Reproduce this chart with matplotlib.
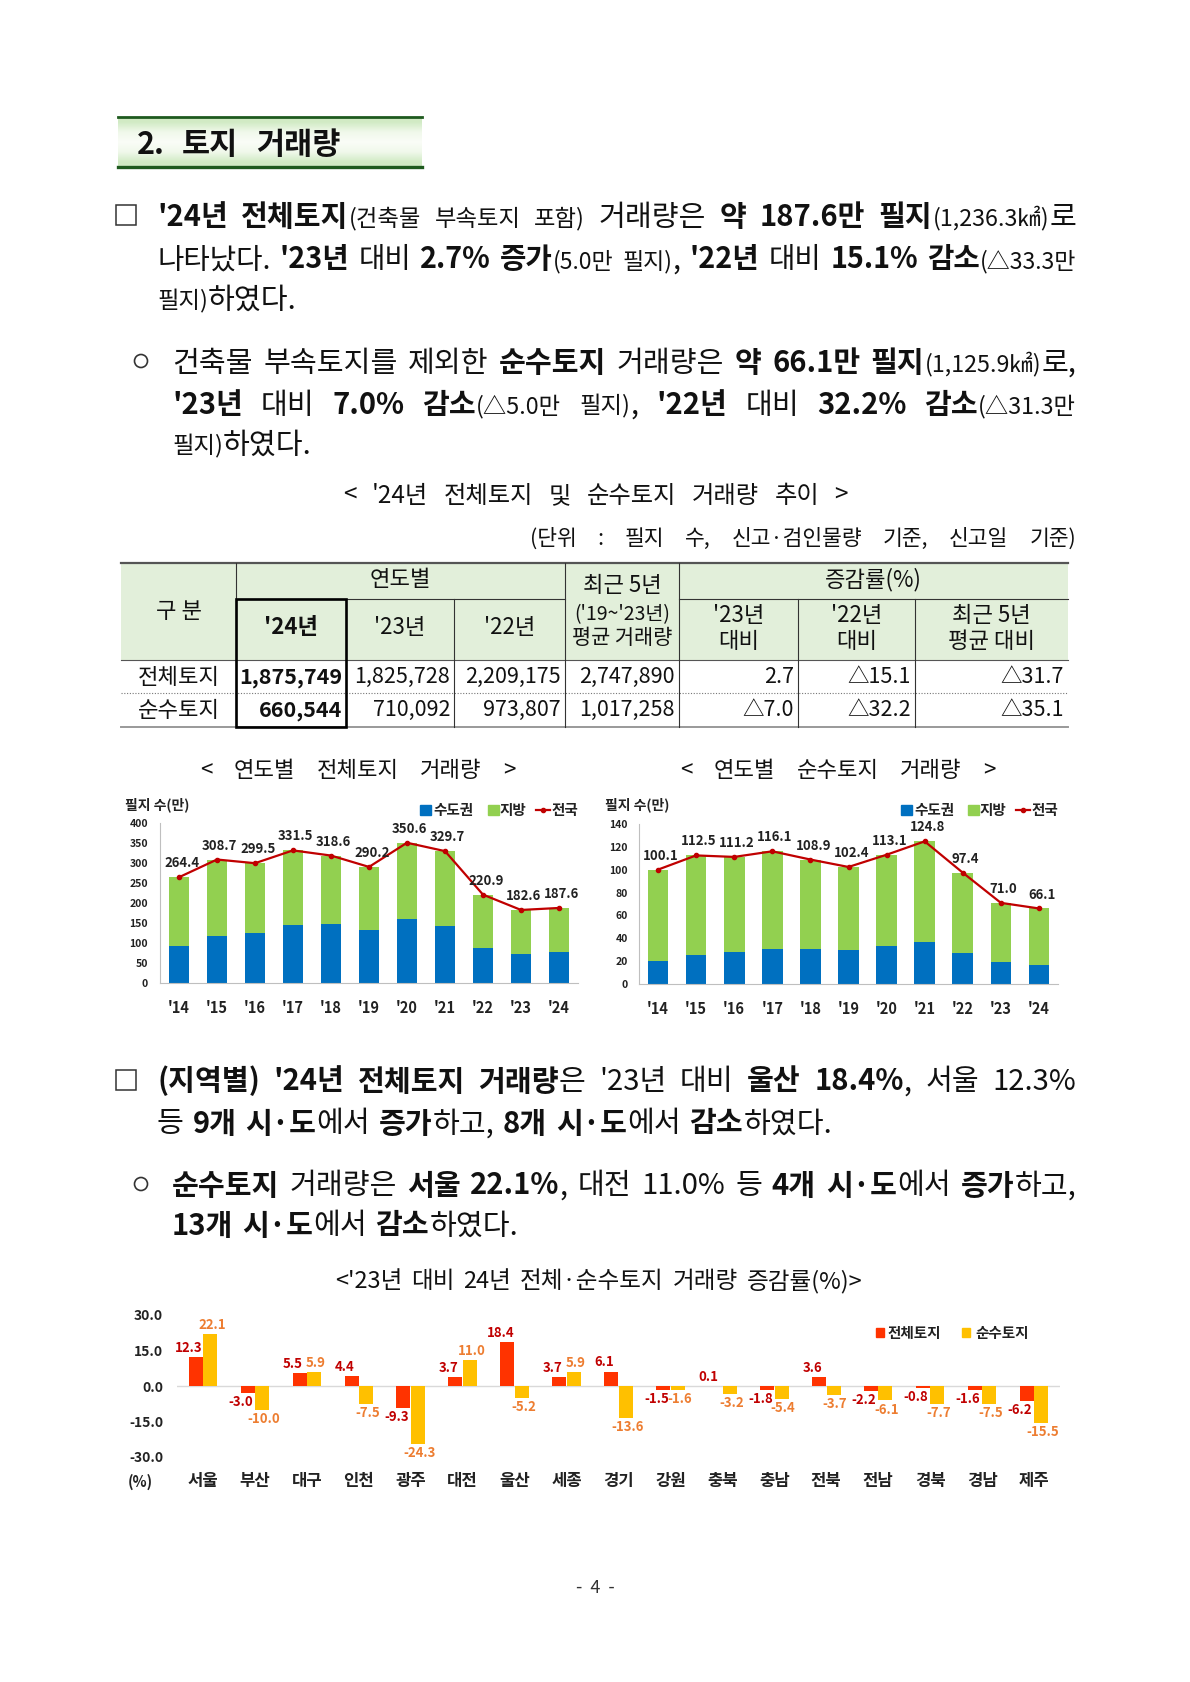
import numpy as np
import matplotlib.pyplot as plt
from matplotlib.patches import Rectangle, Circle

plt.rcParams['font.family'] = ['Noto Sans CJK KR', 'DejaVu Sans']
plt.rcParams['axes.unicode_minus'] = False

W, H = 1190, 1682

# ---- data ----
years = ["'14", "'15", "'16", "'17", "'18", "'19", "'20", "'21", "'22", "'23", "'24"]
all_total = [264.4, 308.7, 299.5, 331.5, 318.6, 290.2, 350.6, 329.7, 220.9, 182.6, 187.6]
all_capital = [92, 118, 124, 145, 147.5, 132, 159, 143, 87, 72.5, 77.5]
pure_total = [100.1, 112.5, 111.2, 116.1, 108.9, 102.4, 113.1, 124.8, 97.4, 71.0, 66.1]
pure_capital = [20.4, 25.7, 28.0, 30.3, 30.3, 29.4, 33.5, 37.0, 27.4, 19.0, 16.3]

regions = ['서울', '부산', '대구', '인천', '광주', '대전', '울산', '세종', '경기',
           '강원', '충북', '충남', '전북', '전남', '경북', '경남', '제주']
chg_all = [12.3, -3.0, 5.5, 4.4, -9.3, 3.7, 18.4, 3.7, 6.1,
           -1.5, 0.1, -1.8, 3.6, -2.2, -0.8, -1.6, -6.2]
chg_pure = [22.1, -10.0, 5.9, -7.5, -24.3, 11.0, -5.2, 5.9, -13.6,
            -1.6, -3.2, -5.4, -3.7, -6.1, -7.7, -7.5, -15.5]

tbl_rows = ['전체토지', '순수토지']
vol_24 = [1875749, 660544]
vol_23 = [1825728, 710092]
vol_22 = [2209175, 973807]
vol_5yr = [2747890, 1017258]
rate_23 = [2.7, -7.0]
rate_22 = [-15.1, -32.2]
rate_5yr = [-31.7, -35.1]

BLUE, GREEN, LINE = '#0070C0', '#92D050', '#C00000'
RED, YEL = '#FF3300', '#FFC000'
TXT = '#111111'

fig = plt.figure(figsize=(W / 100, H / 100), dpi=100)
page = fig.add_axes([0, 0, 1, 1])
page.set_xlim(0, W)
page.set_ylim(H, 0)
page.axis('off')
R = fig.canvas.get_renderer()


def px(pt):
    return pt * 100 / 72


def tw(s, size, weight='normal'):
    t = page.text(0, 0, s, fontsize=size, fontweight=weight)
    w = t.get_window_extent(R).width
    t.remove()
    return w


def parse(s):
    # **bold**, {small}
    chars, bold, small, i = [], False, False, 0
    while i < len(s):
        if s.startswith('**', i):
            bold = not bold
            i += 2
            continue
        if s[i] == '{':
            small = True
        elif s[i] == '}':
            small = False
        else:
            chars.append((s[i], bold, small))
        i += 1
    words, cur = [], []
    for c in chars:
        if c[0] == ' ':
            if cur:
                words.append(cur)
            cur = []
        else:
            cur.append(c)
    if cur:
        words.append(cur)
    out = []
    for w in words:
        runs = []
        for c, b, sm in w:
            if runs and runs[-1][1] == b and runs[-1][2] == sm:
                runs[-1][0] += c
            else:
                runs.append([c, b, sm])
        out.append(runs)
    return out


def text_line(x0, x1, yc, s, size=21, justify=True, small=0.8, color=TXT):
    words = parse(s)

    def measure(sz):
        return [[tw(t, sz * (small if sm else 1), 'bold' if b else 'normal')
                 for t, b, sm in w] for w in words]
    ws = measure(size)
    natural = sum(map(sum, ws))
    n = len(words) - 1
    sp = px(size) * 0.3
    if natural + sp * n > x1 - x0:
        size = size * (x1 - x0 - sp * n) / natural
        ws = measure(size)
        natural = sum(map(sum, ws))
    gap = (x1 - x0 - natural) / n if (justify and n > 0) else sp
    base = yc + px(size) * 0.36
    x = x0
    for w, wl in zip(words, ws):
        for (t, b, sm), wd in zip(w, wl):
            page.text(x, base, t, fontsize=size * (small if sm else 1),
                      fontweight='bold' if b else 'normal', va='baseline',
                      ha='left', color=color)
            x += wd
        x += gap


# ---- section title box ----
grad = np.array([[0.82, 0.92, 0.77], [0.94, 0.975, 0.92], [0.98, 0.99, 0.97],
                 [0.94, 0.975, 0.92], [0.82, 0.92, 0.77]])[:, None, :]
page.imshow(grad, extent=(118, 422, 167, 117), aspect='auto', interpolation='bilinear', zorder=0)
page.set_xlim(0, W)
page.set_ylim(H, 0)
page.plot([118, 422], [117, 117], color='#1e5a1e', lw=2.0)
page.plot([118, 422], [167, 167], color='#1e5a1e', lw=2.4)
text_line(137, 340, 143, "**2. 토지 거래량**", size=22)

# ---- paragraphs ----
X0, X1 = 157, 1076
XO = 172
page.add_patch(Rectangle((116, 205), 20, 20, fill=False, lw=1.1, ec='#333'))
text_line(X0, X1, 215, "**'24년 전체토지**{(건축물 부속토지 포함)} 거래량은 **약 187.6만 필지**{(1,236.3㎢)}로")
text_line(X0, X1, 258, "나타났다. **'23년** 대비 **2.7% 증가**{(5.0만 필지)}, **'22년** 대비 **15.1% 감소**{(△33.3만}")
text_line(X0, X1, 298, "{필지)}하였다.", justify=False)

page.add_patch(Circle((141, 361), 6.5, fill=False, lw=1.2, ec='#333'))
text_line(XO, X1, 361, "건축물 부속토지를 제외한 **순수토지** 거래량은 **약 66.1만 필지**{(1,125.9㎢)}로,")
text_line(XO, X1, 403, "**'23년** 대비 **7.0% 감소**{(△5.0만 필지)}, **'22년** 대비 **32.2% 감소**{(△31.3만}")
text_line(XO, X1, 443, "{필지)}하였다.", justify=False)

text_line(343, 848, 494, "< '24년 전체토지 및 순수토지 거래량 추이 >", size=17.5)
text_line(530, 1076, 537, "(단위 : 필지 수, 신고·검인물량 기준, 신고일 기준)", size=15.5)

# ---- table ----
cx = [121, 236, 346, 454, 565, 679, 798, 915, 1068]
ry = [563, 599, 660, 693, 727]
page.add_patch(Rectangle((cx[0], ry[0]), cx[-1] - cx[0], ry[2] - ry[0], fc='#E2EFDA', ec='none', zorder=1))
page.plot([cx[0], cx[-1]], [ry[0], ry[0]], color='#555', lw=1.6, zorder=2)
page.plot([cx[1], cx[4]], [ry[1], ry[1]], color='#333', lw=0.8, zorder=2)
page.plot([cx[5], cx[-1]], [ry[1], ry[1]], color='#333', lw=0.8, zorder=2)
page.plot([cx[0], cx[-1]], [ry[2], ry[2]], color='#555', lw=0.8, zorder=2)
page.plot([cx[0], cx[-1]], [ry[3], ry[3]], color='#777', lw=0.8, ls=(0, (1, 1.5)), zorder=2)
page.plot([cx[0], cx[-1]], [ry[4], ry[4]], color='#999', lw=1.4, zorder=2)
for i in [1, 4, 5]:
    page.plot([cx[i], cx[i]], [ry[0], ry[4]], color='#333', lw=0.8, zorder=2)
for i in [3, 6, 7]:
    page.plot([cx[i], cx[i]], [ry[1], ry[4]], color='#333', lw=0.8, zorder=2)
page.add_patch(Rectangle((cx[1], ry[1]), cx[2] - cx[1], ry[4] - ry[1], fill=False, ec='#000', lw=1.9, zorder=3))


def ctext(x, y, s, size=16, weight='normal', ha='center'):
    page.text(x, y, s, fontsize=size, fontweight=weight, ha=ha, va='center', color=TXT, zorder=4)


ctext((cx[0] + cx[1]) / 2, 612, '구 분')
ctext((cx[1] + cx[4]) / 2, 580, '연도별')
ctext((cx[4] + cx[5]) / 2, 585, '최근 5년')
ctext((cx[4] + cx[5]) / 2, 615, "('19~'23년)", size=14)
ctext((cx[4] + cx[5]) / 2, 638, '평균 거래량', size=15)
ctext((cx[5] + cx[-1]) / 2, 580, '증감률(%)')
ctext((cx[1] + cx[2]) / 2, 628, "'24년", weight='bold')
ctext((cx[2] + cx[3]) / 2, 628, "'23년")
ctext((cx[3] + cx[4]) / 2, 628, "'22년")
for i, (a, b) in enumerate([("'23년", '대비'), ("'22년", '대비'), ('최근 5년', '평균 대비')]):
    xm = (cx[5 + i] + cx[6 + i]) / 2
    ctext(xm, 616, a)
    ctext(xm, 642, b)


def rate(v):
    return f'{v:.1f}' if v >= 0 else f'△{abs(v):.1f}'


for r, yy in enumerate([677, 710]):
    ctext((cx[0] + cx[1]) / 2, yy, tbl_rows[r])
    cells = [f'{vol_24[r]:,}', f'{vol_23[r]:,}', f'{vol_22[r]:,}', f'{vol_5yr[r]:,}',
             rate(rate_23[r]), rate(rate_22[r]), rate(rate_5yr[r])]
    for j, s in enumerate(cells):
        ctext(cx[j + 2] - 4, yy, s, size=15.5, weight='bold' if j == 0 else 'normal', ha='right')

# ---- yearly charts ----
text_line(200, 515, 769, "< 연도별 전체토지 거래량 >", size=16)
text_line(680, 995, 769, "< 연도별 순수토지 거래량 >", size=16)


def ax_rect(x0, x1, ytop, ybot):
    return fig.add_axes([x0 / W, 1 - ybot / H, (x1 - x0) / W, (ybot - ytop) / H])


def year_chart(x0, x1, ytop, ybot, total, capital, ymax, step, ypad, ylab_x, leg):
    ax = ax_rect(x0, x1, ytop, ybot)
    x = np.arange(len(years))
    local = np.array(total) - np.array(capital)
    ax.bar(x, capital, width=0.54, color=BLUE, zorder=2)
    ax.bar(x, local, bottom=capital, width=0.54, color=GREEN, zorder=2)
    ax.plot(x, total, color=LINE, lw=1.6, marker='o', ms=3, zorder=3)
    for xi, v in zip(x, total):
        ax.annotate(f'{v:.1f}', (xi, v), xytext=(2, 5), textcoords='offset points',
                    ha='center', va='bottom', fontsize=9.5, fontweight='bold', color='#222', zorder=4)
    ax.set_xlim(-0.5, len(years) - 0.5)
    ax.set_ylim(0, ymax)
    ax.set_yticks(np.arange(0, ymax + 1, step))
    ax.set_xticks(x)
    ax.set_xticklabels(years)
    for s in ['top', 'right']:
        ax.spines[s].set_visible(False)
    for s in ['left', 'bottom']:
        ax.spines[s].set_color('#bfbfbf')
    ax.tick_params(axis='y', length=0, pad=ypad, labelsize=7.5, labelcolor='#222')
    ax.tick_params(axis='x', length=0, pad=12, labelsize=10.5, labelcolor='#222')
    for lab in ax.get_xticklabels() + ax.get_yticklabels():
        lab.set_fontweight('bold')
    page.text(ylab_x, 805, '필지 수(만)', fontsize=10, fontweight='bold', va='center', color='#222')
    bx, gx, lx = leg
    page.add_patch(Rectangle((bx, 805), 11, 10, color=BLUE))
    page.text(bx + 13, 810, '수도권', fontsize=10.5, fontweight='bold', va='center', color='#222')
    page.add_patch(Rectangle((gx, 805), 11, 10, color=GREEN))
    page.text(gx + 12, 810, '지방', fontsize=10.5, fontweight='bold', va='center', color='#222')
    page.plot([lx, lx + 14], [810, 810], color=LINE, lw=1.6)
    page.plot([lx + 7], [810], 'o', color=LINE, ms=3)
    page.text(lx + 16, 810, '전국', fontsize=10.5, fontweight='bold', va='center', color='#222')
    return ax


year_chart(160, 578, 823, 983, all_total, all_capital, 400, 50, 8.5, 125, (420, 488, 536))
year_chart(639, 1058, 824, 984, pure_total, pure_capital, 140, 20, 8, 605, (901, 968, 1016))

# ---- lower paragraphs ----
page.add_patch(Rectangle((116, 1070), 20, 20, fill=False, lw=1.1, ec='#333'))
text_line(X0, X1, 1080, "**(지역별) '24년 전체토지 거래량**은 '23년 대비 **울산 18.4%**, 서울 12.3%")
text_line(X0, X1, 1122, "등 **9개 시·도**에서 **증가**하고, **8개 시·도**에서 **감소**하였다.", justify=False)
page.add_patch(Circle((141, 1184), 6.5, fill=False, lw=1.2, ec='#333'))
text_line(XO, X1, 1184, "**순수토지** 거래량은 **서울 22.1%**, 대전 11.0% 등 **4개 시·도**에서 **증가**하고,")
text_line(XO, X1, 1224, "**13개 시·도**에서 **감소**하였다.", justify=False)

# ---- regional change chart ----
text_line(335, 862, 1280, "<'23년 대비 24년 전체·순수토지 거래량 증감률(%)>", size=17)
ax3 = ax_rect(177, 1060, 1315, 1457)
xr = np.arange(len(regions))
bw = 0.27
ax3.axhline(0, color='#d9d9d9', lw=1.0, zorder=1)
ax3.bar(xr - 0.14, chg_all, width=bw, color=RED, zorder=2)
ax3.bar(xr + 0.14, chg_pure, width=bw, color=YEL, zorder=2)
for i, v in enumerate(chg_all):
    ax3.annotate(f'{v:.1f}', (i - 0.27, v), xytext=(0, 1.5 if v >= 0 else -1.5),
                 textcoords='offset points', ha='center', va='bottom' if v >= 0 else 'top',
                 fontsize=9.5, fontweight='bold', color='#C00000')
for i, v in enumerate(chg_pure):
    ax3.annotate(f'{v:.1f}', (i + 0.17, v), xytext=(0, 1.5 if v >= 0 else -1.5),
                 textcoords='offset points', ha='center', va='bottom' if v >= 0 else 'top',
                 fontsize=9.5, fontweight='bold', color='#ED7D31')
ax3.set_xlim(-0.5, len(regions) - 0.5)
ax3.set_ylim(-30, 30)
ax3.set_yticks([-30, -15, 0, 15, 30])
ax3.set_yticklabels([f'{v:.1f}' for v in [-30, -15, 0, 15, 30]])
ax3.set_xticks(xr)
ax3.set_xticklabels(regions)
for s in ax3.spines.values():
    s.set_visible(False)
ax3.tick_params(axis='y', length=0, pad=10, labelsize=10, labelcolor='#222')
ax3.tick_params(axis='x', length=0, pad=11, labelsize=12, labelcolor='#222')
for lab in ax3.get_xticklabels() + ax3.get_yticklabels():
    lab.set_fontweight('bold')
ax3.patch.set_alpha(0)
page.text(140, 1482, '(%)', fontsize=10.5, fontweight='bold', ha='center', va='center', color='#222')
page.add_patch(Rectangle((876, 1328), 8, 9, color=RED))
page.text(888, 1333, '전체토지', fontsize=10.5, fontweight='bold', va='center', color='#222')
page.add_patch(Rectangle((962, 1328), 8, 9, color=YEL))
page.text(975, 1333, '순수토지', fontsize=10.5, fontweight='bold', va='center', color='#222')

page.text(595, 1588, '-  4  -', fontsize=13, ha='center', va='center', color='#333')

fig.savefig('out.png', dpi=100)
